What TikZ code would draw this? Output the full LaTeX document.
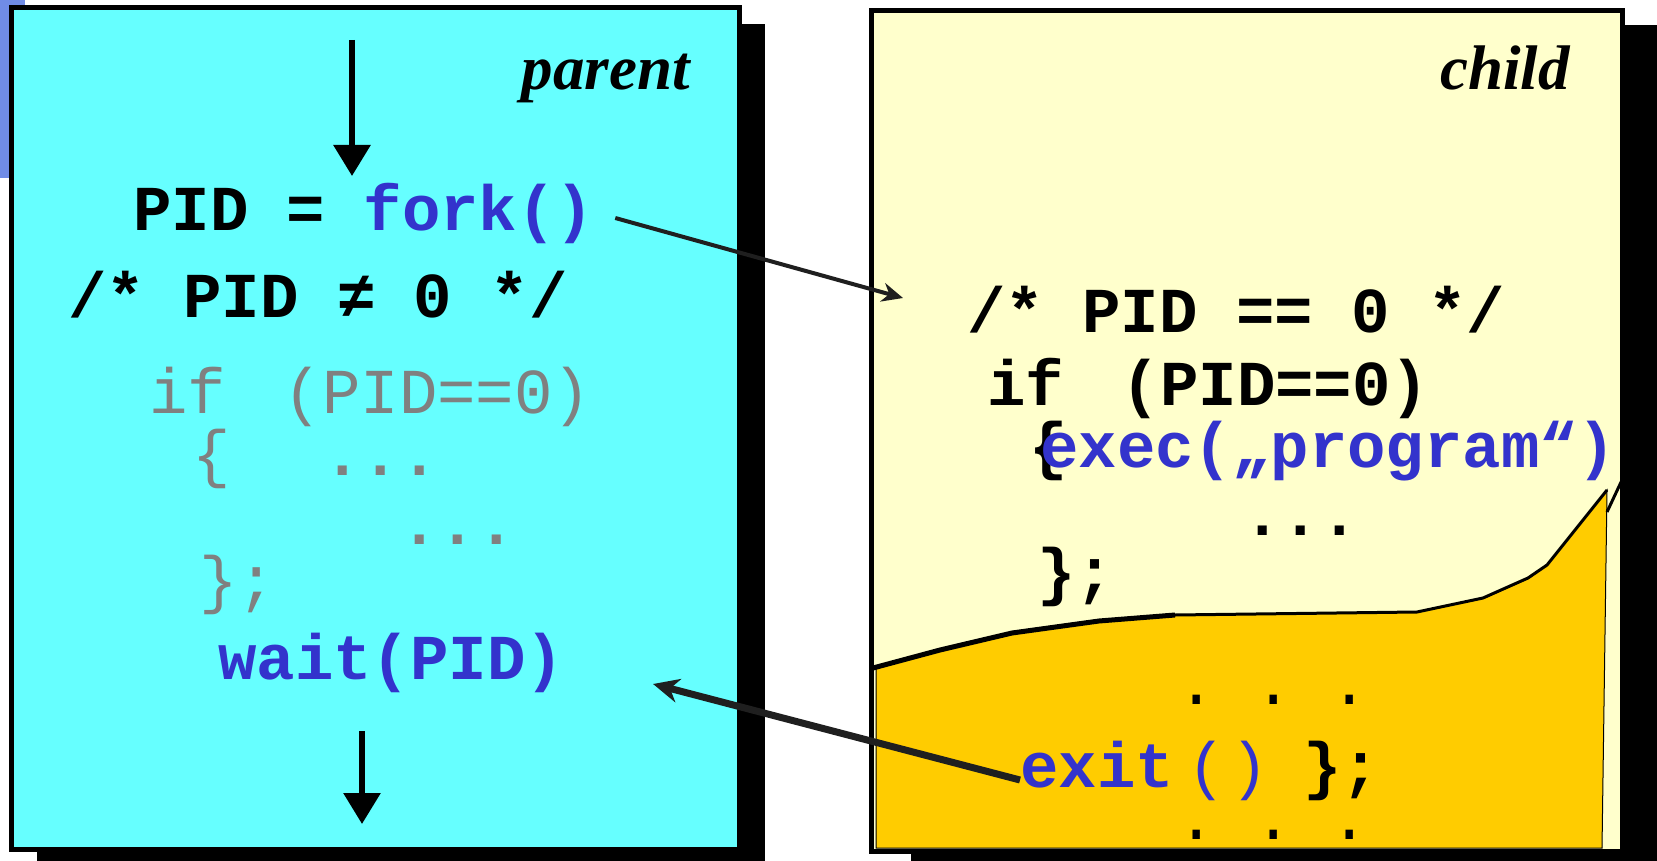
\documentclass[tikz,border=0pt]{standalone}
\usepackage{fontspec}
\newfontfamily\codefont{Liberation Mono}
\newfontfamily\labelfont{Liberation Serif}
\usetikzlibrary{arrows.meta,shadows,calc}

\definecolor{parentbg}{RGB}{102,255,255}
\definecolor{childbg}{RGB}{255,255,204}
\definecolor{exitbg}{RGB}{255,204,0}
\definecolor{callblue}{RGB}{51,51,204}
\definecolor{dimgray}{RGB}{128,128,128}
\definecolor{slideblue}{RGB}{112,140,230}

\tikzset{
  code/.style={anchor=base west, inner sep=0pt, font=\codefont\bfseries\fontsize{64pt}{64pt}\selectfont},
  thin code/.style={code, font=\codefont\mdseries\fontsize{64pt}{64pt}\selectfont},
  faded/.style={text=dimgray},
  call/.style={text=callblue},
  title/.style={anchor=base east, inner sep=0pt, font=\labelfont\bfseries\itshape\fontsize{63pt}{63pt}\selectfont},
  proc/.style={draw=black, line width=5pt, inner sep=0pt},
  flow/.style={line width=6pt, -{Triangle[width=36pt,length=31pt]}},
  link/.style={draw=black!88, line width=4pt, -{Stealth[width=19pt,length=21pt]}},
}

\begin{document}
\begin{tikzpicture}[x=1pt,y=-1pt]
\useasboundingbox (0,0) rectangle (1657,861);
\clip (0,0) rectangle (1657,861);

\fill[slideblue] (0,0) rectangle (25,178);

\node[proc, fill=parentbg, minimum width=728pt, minimum height=841pt,
  drop shadow={shadow xshift=26pt, shadow yshift=-16.5pt, fill=black, opacity=1}] (parent) at (375,428.5) {};
\node[proc, fill=childbg, minimum width=751pt, minimum height=840pt,
  drop shadow={shadow xshift=40pt, shadow yshift=-14pt, fill=black, opacity=1}] (child) at (1246.5,431) {};

\node[title] (ptitle) at (690,90) {parent};
\node[code] (forkline) at (133,230) {PID = \textcolor{callblue}{fork()}};
\node[code] (pidne) at (68,317) {/* PID ≠ 0 */};
\node[thin code, faded] (pif) at (149,413) {if\hspace{58pt}(PID==0)};
\node[thin code, faded] (popen) at (192,475) {\{};
\node[code, faded] (pdots) at (323,475) {...};
\node[code, faded] (pmore) at (400,544) {...};
\node[thin code, faded] (pclose) at (199,601) {\};};
\node[code, call] (waitcall) at (218,679) {wait(PID)};

\coordinate (forkin) at (352,40);
\coordinate (forkat) at (352,176);
\draw[flow] (forkin) -- (forkat);
\coordinate (waitout) at (362,731);
\coordinate (waitend) at (362,824);
\draw[flow] (waitout) -- (waitend);

\filldraw[fill=exitbg, draw=black, line width=1pt] (876,667) -- (940,650) -- (1012,633) -- (1099,621)
  -- (1175,615) -- (1417,612) -- (1483,598) -- (1528,578) -- (1547,565) -- (1607,490)
  -- (1602,848) -- (876,848) -- cycle;
\draw[line width=5pt, line join=round] (873,668) -- (940,650) -- (1012,633) -- (1099,621) -- (1175,615);
\draw[line width=3pt, line join=round] (1175,615) -- (1417,612) -- (1483,598) -- (1528,578) -- (1547,565) -- (1607,490);
\draw[line width=3pt] (1607,512) -- (1622,480);

\node[title] (ctitle) at (1570,90) {child};
\node[code] (pideq) at (967,332) {/* PID == 0 */};
\node[code] (cif) at (987,405) {if\hspace{58pt}(PID==0)};
\node[code] (copen) at (1029,467) {\{};
\node[code, call] (execcall) at (1040,467) {exec(„program“)};
\node[code] (cdots) at (1243,535) {...};
\node[code] (cclose) at (1037,593) {\};};

\node[thin code] (edots) at (1177,704) {.\ .\ .};
\node[code, call] (exitcall) at (1020,787) {exit};
\node[thin code, call] (exitargs) at (1187,787) {(\kern5pt)};
\node[code] (eclose) at (1303,787) {\};};
\node[thin code] (emore) at (1177,839) {.\ .\ .};

\draw[link] ($(forkline.base east)+(21,-12)$) -- ($(pideq.base west)+(-64,-34)$);
\draw[link, line width=7pt, -{Stealth[width=24pt,length=26pt]}] ($(exitcall.base west)+(0,-7)$) -- ($(waitcall.base east)+(89,5)$);
\end{tikzpicture}
\end{document}
